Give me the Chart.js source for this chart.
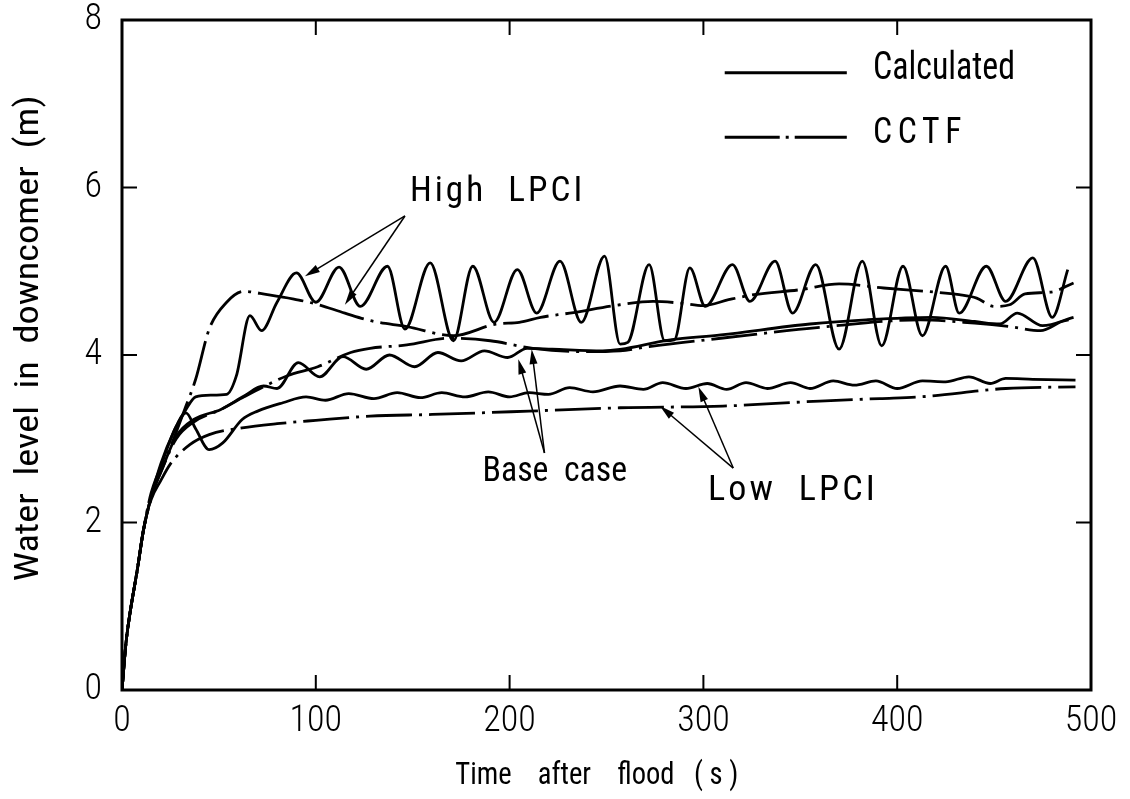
<!DOCTYPE html>
<html>
<head>
<meta charset="utf-8">
<script src="https://cdn.jsdelivr.net/npm/chart.js@4.4.1/dist/chart.umd.min.js"></script>
<style>
  html, body { margin: 0; padding: 0; background: #fff; }
  canvas { display: block; }
</style>
</head>
<body>
<canvas id="chart" width="1130" height="799"></canvas>
<script>
// Water level in downcomer (m) vs time after flood (s)

// High LPCI
const highCalcT = [0, 2, 4, 8, 11, 15, 20, 27, 33, 38, 46, 54, 59, 66, 72, 80, 90, 100, 112, 123, 137, 146, 159, 171, 181, 192, 204, 214, 226, 237, 249, 257, 261, 272, 280, 285, 293, 301, 315, 324, 337, 346, 358, 370, 382, 392, 403, 413, 425, 432, 446, 456, 470, 480, 488];
const highCalcH = [0, 0.55, 0.9, 1.45, 1.9, 2.3, 2.7, 3.1, 3.35, 3.5, 3.52, 3.53, 3.75, 4.47, 4.29, 4.63, 4.98, 4.63, 5.05, 4.58, 5.06, 4.31, 5.1, 4.17, 5.06, 4.39, 5.02, 4.5, 5.12, 4.39, 5.18, 4.13, 4.15, 5.08, 4.17, 4.18, 5.04, 4.58, 5.08, 4.64, 5.12, 4.5, 5.08, 4.07, 5.12, 4.11, 5.06, 4.23, 5.06, 4.5, 5.06, 4.64, 5.16, 4.45, 5.02];
const highCctfT = [0, 2, 4, 8, 11, 15, 25, 33, 38, 45, 54, 63, 75, 88, 100, 115, 130, 147, 171, 193, 205, 216, 231, 257, 274, 288, 300, 313, 326, 350, 370, 393, 415, 432, 441, 450, 458, 466, 479, 491];
const highCctfH = [0, 0.55, 0.9, 1.45, 1.9, 2.35, 2.9, 3.39, 3.71, 4.31, 4.63, 4.76, 4.72, 4.67, 4.61, 4.5, 4.4, 4.34, 4.23, 4.37, 4.39, 4.45, 4.5, 4.6, 4.64, 4.62, 4.59, 4.66, 4.72, 4.78, 4.85, 4.8, 4.76, 4.72, 4.68, 4.58, 4.6, 4.73, 4.75, 4.86];

// Base case
const baseCalcT = [0, 2, 4, 8, 11, 15, 20, 28, 37, 51, 63, 73, 80, 91, 102, 114, 126, 138, 151, 163, 175, 187, 199, 209, 222, 248, 283, 309, 355, 384, 418, 440, 453, 462, 475, 491];
const baseCalcH = [0, 0.55, 0.9, 1.45, 1.9, 2.3, 2.6, 3.03, 3.23, 3.35, 3.51, 3.63, 3.6, 3.91, 3.74, 3.98, 3.83, 4.0, 3.86, 4.03, 3.93, 4.05, 3.97, 4.08, 4.07, 4.05, 4.18, 4.24, 4.37, 4.42, 4.45, 4.4, 4.37, 4.5, 4.35, 4.45];
const baseCctfT = [0, 2, 4, 8, 11, 15, 20, 28, 37, 51, 63, 73, 85, 101, 118, 128, 147, 169, 190, 212, 238, 257, 272, 309, 360, 412, 440, 458, 474, 485, 491];
const baseCctfH = [0, 0.55, 0.9, 1.45, 1.9, 2.3, 2.6, 3.0, 3.2, 3.35, 3.5, 3.62, 3.75, 3.86, 4.03, 4.08, 4.12, 4.2, 4.17, 4.08, 4.04, 4.05, 4.1, 4.2, 4.33, 4.42, 4.38, 4.34, 4.29, 4.4, 4.43];

// Low LPCI
const lowCalcT = [0, 2, 4, 8, 11, 15, 22, 28, 33, 38, 45, 52, 62, 70, 83, 95, 105, 117, 130, 142, 154, 165, 177, 189, 200, 210, 220, 231, 243, 257, 269, 279, 291, 302, 312, 322, 333, 345, 355, 367, 378, 389, 400, 413, 425, 437, 448, 456, 470, 492];
const lowCalcH = [0, 0.55, 0.9, 1.45, 1.9, 2.3, 2.8, 3.15, 3.31, 3.12, 2.87, 2.95, 3.23, 3.33, 3.43, 3.5, 3.46, 3.54, 3.48, 3.55, 3.49, 3.55, 3.5, 3.56, 3.5, 3.55, 3.53, 3.61, 3.56, 3.63, 3.59, 3.67, 3.6, 3.66, 3.59, 3.67, 3.6, 3.67, 3.6, 3.69, 3.64, 3.69, 3.6, 3.69, 3.68, 3.74, 3.66, 3.72, 3.71, 3.7];
const lowCctfT = [0, 2, 4, 8, 11, 15, 20, 25, 35, 45, 62, 80, 100, 128, 160, 210, 257, 310, 360, 391, 412, 456, 492];
const lowCctfH = [0, 0.55, 0.9, 1.45, 1.9, 2.27, 2.5, 2.7, 2.93, 3.05, 3.13, 3.18, 3.22, 3.27, 3.29, 3.33, 3.37, 3.39, 3.45, 3.48, 3.5, 3.6, 3.62];

const xTickStep = 100;
const yTickStep = 2;
const xTitle = 'Time    after    flood   ( s )';
const yTitle = 'Water  level  in  downcomer  (m)';

const FONT = "'Roboto Condensed', 'DejaVu Sans Condensed', 'Liberation Sans Narrow', Roboto, sans-serif";

const pairs = (ts, hs) => ts.map((t, i) => ({ x: t, y: hs[i] }));

const solid = { borderColor: '#000', borderWidth: 2.8, pointRadius: 0, fill: false, cubicInterpolationMode: 'monotone' };
const dashDot = { ...solid, borderDash: [46, 7, 3, 7] };

// text squeezed/stretched to fill a given length, optionally turned upright
const fitText = (ctx, text, x0, x1, yc, size, spacing, upright) => {
    ctx.save();
    ctx.font = size + 'px ' + FONT;
    ctx.letterSpacing = (spacing || 0) + 'px';
    const w = ctx.measureText(text).width;
    if (upright) {
        // x0/x1 are the bottom/top pixel rows, yc the column
        ctx.translate(yc, x0);
        ctx.rotate(-Math.PI / 2);
        ctx.scale((x0 - x1) / w, 1);
    } else {
        ctx.translate(x0, yc);
        ctx.scale((x1 - x0) / w, 1);
    }
    ctx.textAlign = 'left';
    ctx.textBaseline = 'middle';
    ctx.fillStyle = '#000';
    ctx.fillText(text, 0, 0);
    ctx.restore();
};

const arrow = (ctx, x0, y0, x1, y1) => {
    const ang = Math.atan2(y1 - y0, x1 - x0);
    const c = Math.cos(ang), s = Math.sin(ang);
    ctx.beginPath();
    ctx.moveTo(x0, y0);
    ctx.lineTo(x1 - c * 10, y1 - s * 10);
    ctx.stroke();
    ctx.beginPath();
    ctx.moveTo(x1, y1);
    ctx.lineTo(x1 - c * 15 + s * 4, y1 - s * 15 - c * 4);
    ctx.lineTo(x1 - c * 15 - s * 4, y1 - s * 15 + c * 4);
    ctx.closePath();
    ctx.fill();
};

// box, inward ticks, axis titles, legend and curve labels
const frame = {
    id: 'frame',
    afterDatasetsDraw(chart) {
        const { ctx, chartArea: a, scales: { x, y } } = chart;
        const X = v => x.getPixelForValue(v);
        const Y = v => y.getPixelForValue(v);
        ctx.save();
        ctx.strokeStyle = '#000';
        ctx.fillStyle = '#000';
        ctx.lineWidth = 3;
        ctx.strokeRect(a.left, a.top, a.right - a.left, a.bottom - a.top);

        ctx.lineWidth = 2;
        ctx.beginPath();
        x.ticks.forEach(t => {
            const px = X(t.value);
            ctx.moveTo(px, a.bottom); ctx.lineTo(px, a.bottom - 15);
            ctx.moveTo(px, a.top); ctx.lineTo(px, a.top + 15);
        });
        y.ticks.forEach(t => {
            const py = Y(t.value);
            ctx.moveTo(a.left, py); ctx.lineTo(a.left + 15, py);
            ctx.moveTo(a.right, py); ctx.lineTo(a.right - 15, py);
        });
        ctx.stroke();

        // axis titles
        fitText(ctx, xTitle, X(172), X(318), a.bottom + 86, 31, 0);
        fitText(ctx, yTitle, Y(1.3), Y(7.1), 30, 33, 0, true);

        // legend
        ctx.lineWidth = 2.8;
        ctx.beginPath();
        ctx.moveTo(X(311), Y(7.37));
        ctx.lineTo(X(374), Y(7.37));
        ctx.stroke();
        ctx.setLineDash([55, 6, 3, 6]);
        ctx.beginPath();
        ctx.moveTo(X(311), Y(6.6));
        ctx.lineTo(X(374), Y(6.6));
        ctx.stroke();
        ctx.setLineDash([]);
        fitText(ctx, 'Calculated', X(387.5), X(460.8), Y(7.41), 38, 0);
        fitText(ctx, 'CCTF', X(387.5), X(436), Y(6.64), 36, 6);

        // curve labels
        fitText(ctx, 'High  LPCI', X(148.6), X(239), Y(5.94), 35, 3);
        fitText(ctx, 'Base  case', X(186), X(260.6), Y(2.6), 35, 0);
        fitText(ctx, 'Low  LPCI', X(302.4), X(390), Y(2.37), 35, 3);

        ctx.lineWidth = 1.5;
        const arrows = [
            [146, 5.66, 94.4, 4.94], [146, 5.66, 115, 4.6],
            [218, 2.83, 204.5, 3.95], [218, 2.83, 211.4, 4.07],
            [315.4, 2.65, 277.6, 3.39], [315.4, 2.65, 297.4, 3.62]
        ];
        arrows.forEach(([t0, h0, t1, h1]) => arrow(ctx, X(t0), Y(h0), X(t1), Y(h1)));
        ctx.restore();
    }
};

const tickFont = { family: FONT, size: 36, weight: 300 };

new Chart(document.getElementById('chart'), {
    type: 'line',
    data: {
        datasets: [
            { label: 'High LPCI calculated', data: pairs(highCalcT, highCalcH), ...solid },
            { label: 'High LPCI CCTF', data: pairs(highCctfT, highCctfH), ...dashDot },
            { label: 'Base case calculated', data: pairs(baseCalcT, baseCalcH), ...solid },
            { label: 'Base case CCTF', data: pairs(baseCctfT, baseCctfH), ...dashDot },
            { label: 'Low LPCI calculated', data: pairs(lowCalcT, lowCalcH), ...solid },
            { label: 'Low LPCI CCTF', data: pairs(lowCctfT, lowCctfH), ...dashDot }
        ]
    },
    options: {
        responsive: false,
        animation: false,
        layout: { padding: { top: 0, right: 39, left: 0, bottom: 0 } },
        plugins: { legend: { display: false }, tooltip: { enabled: false } },
        scales: {
            x: {
                type: 'linear',
                min: 0,
                max: 500,
                ticks: { stepSize: xTickStep, color: '#000', font: tickFont, padding: 10, maxRotation: 0 },
                grid: { display: false, drawTicks: false },
                border: { display: false },
                afterFit: s => { s.height = 109; }
            },
            y: {
                type: 'linear',
                min: 0,
                max: 8,
                ticks: { stepSize: yTickStep, color: '#000', font: tickFont, padding: 20 },
                grid: { display: false, drawTicks: false },
                border: { display: false },
                // keep the plot box close to the top edge, as in the figure
                afterFit: s => { s.width = 122; s.paddingTop = 20; s.paddingBottom = 20; }
            }
        }
    },
    plugins: [frame]
});
</script>
</body>
</html>
